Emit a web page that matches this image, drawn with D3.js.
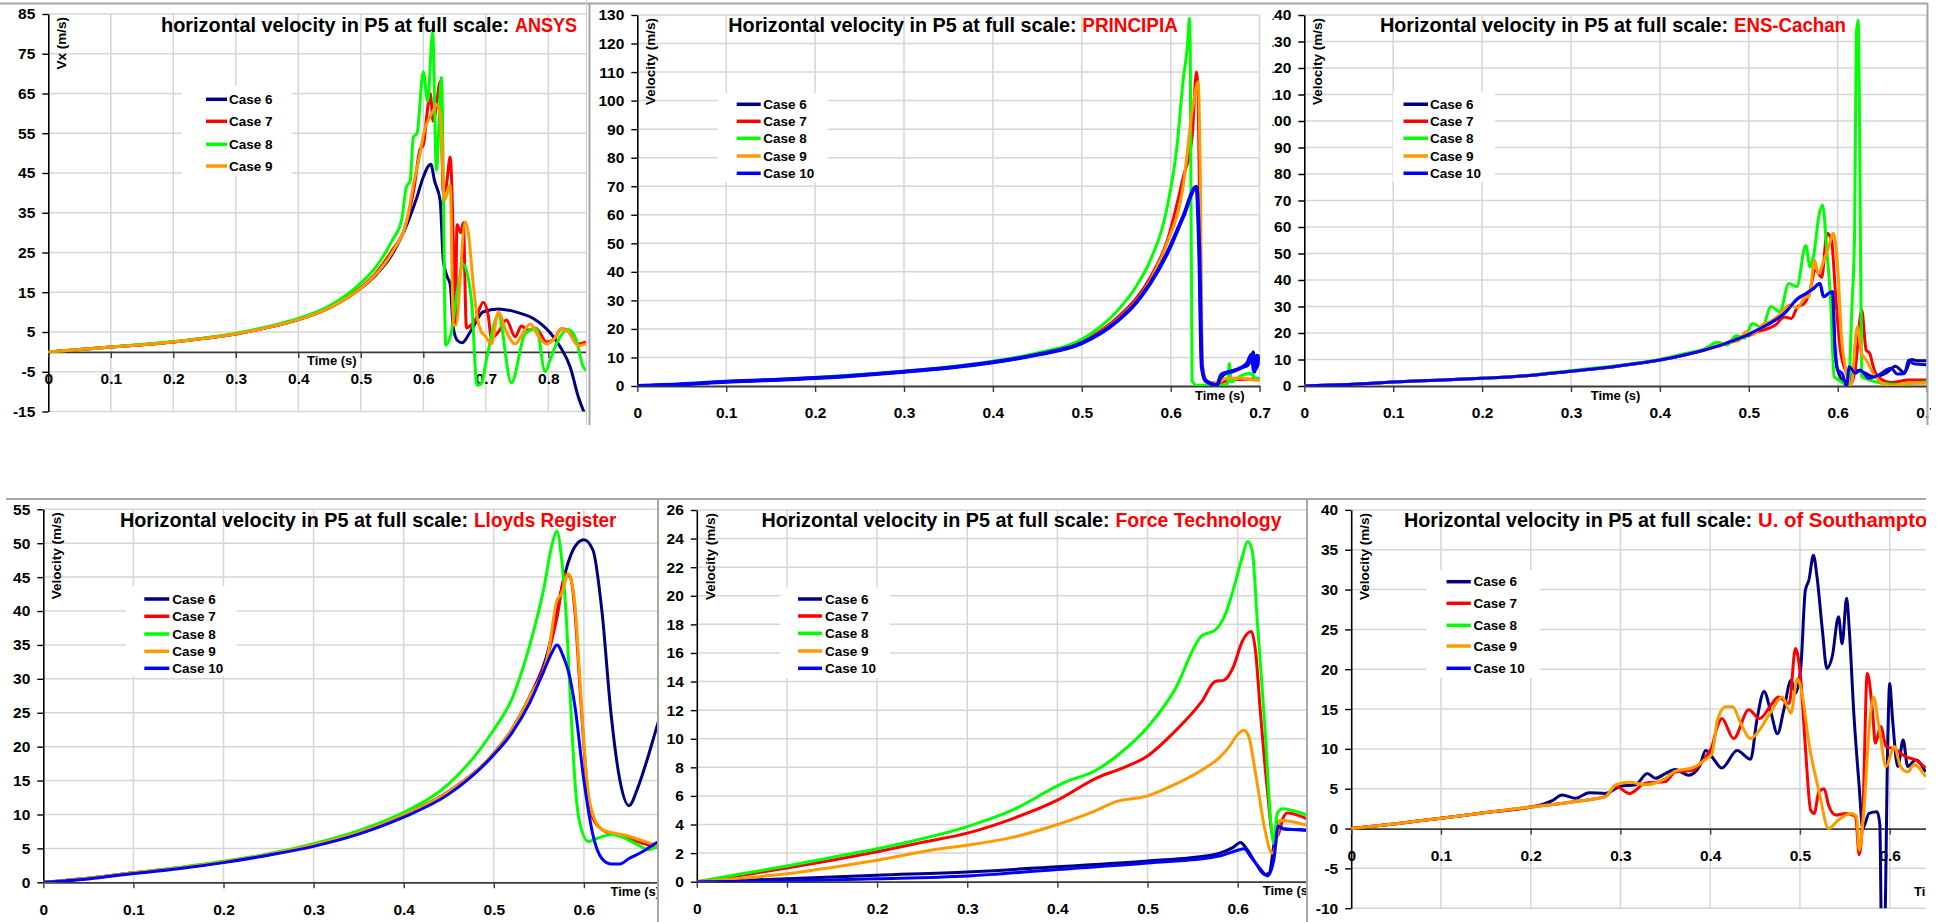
<!DOCTYPE html>
<html>
<head>
<meta charset="utf-8">
<script src="https://cdn.jsdelivr.net/npm/d3@7"></script>
<style>
  html, body { margin: 0; padding: 0; background: #fff; overflow: hidden; }
  svg { display: block; }
</style>
</head>
<body>
<script>
const W = 1939, H = 922
const FONT = '"Liberation Sans", Arial, sans-serif'

const cases = ['Case 6', 'Case 7', 'Case 8', 'Case 9', 'Case 10']
const caseColors = ['#000080', '#ff0000', '#00ff00', '#ff9900', '#0000ff']
const timeTicks = [0, 0.1, 0.2, 0.3, 0.4, 0.5, 0.6, 0.7, 0.8, 0.9]

// ---- ANSYS
const ansysTicks = [85, 75, 65, 55, 45, 35, 25, 15, 5, -5, -15]
const ansysRamp = [[0,0],[0.05,0.6],[0.1,1.2],[0.15,1.8],[0.2,2.5],[0.25,3.4],[0.3,4.5],[0.35,6.1],[0.4,8.1],[0.45,11.1]]
const ansys6 = ansysRamp.concat([[0.5,16],[0.525,19.5],[0.55,24.5],[0.575,32.5],[0.59,39],[0.6,44],[0.612,47.2],[0.618,43],[0.627,38],[0.632,23],[0.638,19],[0.643,17],[0.648,6],[0.655,2.8],[0.662,2.3],[0.675,5],[0.696,10.1],[0.72,10.8],[0.749,10],[0.776,8.4],[0.803,4.8],[0.819,1.3],[0.835,-3.8],[0.848,-11.3],[0.862,-17]])
const ansys7 = ansysRamp.concat([[0.5,16.2],[0.525,20],[0.55,25.5],[0.57,31],[0.585,41],[0.595,51],[0.6,52],[0.606,60],[0.611,65],[0.616,58],[0.621,62],[0.627,68],[0.632,40],[0.637,42],[0.643,49],[0.648,28],[0.651,7],[0.654,32],[0.66,30],[0.664,32.5],[0.669,6],[0.675,6.5],[0.683,8],[0.696,12.5],[0.704,9],[0.709,3.5],[0.72,5],[0.733,8],[0.747,3.8],[0.757,6.5],[0.768,5.5],[0.78,6],[0.797,2.5],[0.808,3],[0.821,5.8],[0.835,5],[0.848,2],[0.86,2.5]])
const ansys8 = [[0,0],[0.05,0.6],[0.1,1.2],[0.15,1.9],[0.2,2.6],[0.25,3.5],[0.3,4.7],[0.35,6.3],[0.4,8.4],[0.45,11.6],[0.5,17.3],[0.525,21.5],[0.55,28],[0.565,33],[0.573,41.5],[0.579,43],[0.584,54],[0.59,55],[0.6,70.5],[0.607,63],[0.615,80.5],[0.621,45.7],[0.629,69],[0.636,1.7],[0.645,5],[0.655,16],[0.664,22],[0.677,13],[0.686,-8.4],[0.693,-8],[0.701,-2],[0.72,9.2],[0.741,-7.8],[0.763,4.6],[0.781,5.9],[0.795,-5],[0.803,-2],[0.813,2],[0.832,5.6],[0.845,2.9],[0.856,-3.8],[0.865,-5]]
const ansys9 = ansysRamp.concat([[0.5,16],[0.525,19.7],[0.55,25],[0.575,34],[0.584,42],[0.595,50],[0.6,54.5],[0.61,59],[0.617,61],[0.621,62.3],[0.627,60],[0.634,38.2],[0.643,42],[0.648,7],[0.652,6.7],[0.667,32.7],[0.672,30],[0.68,17],[0.686,8.8],[0.693,5],[0.699,4],[0.709,2],[0.72,10],[0.733,5],[0.747,2],[0.757,4],[0.771,7],[0.784,4],[0.797,2],[0.808,3],[0.821,5.8],[0.832,5],[0.848,1.5],[0.86,2]])

// ---- PRINCIPIA
const principiaTicks = [0, 10, 20, 30, 40, 50, 60, 70, 80, 90, 100, 110, 120, 130]
const principiaRamp = [[0,0],[0.05,0.6],[0.1,1.5],[0.15,2.1],[0.2,2.8],[0.25,3.8],[0.3,5],[0.35,6.4],[0.4,8.3],[0.45,11]]
const principia6 = principiaRamp.concat([[0.5,15],[0.539,22.5],[0.562,29.5],[0.577,36],[0.596,46.5],[0.614,59.3],[0.629,69.8],[0.632,49],[0.635,6.8],[0.639,2],[0.652,0.3],[0.66,4],[0.67,5],[0.68,6.5],[0.686,7],[0.69,9],[0.693,12],[0.696,6],[0.7,11]])
const principia7 = principiaRamp.concat([[0.5,15.5],[0.539,23.7],[0.577,38],[0.596,50.8],[0.614,73],[0.624,87],[0.629,110],[0.631,100],[0.633,49],[0.635,6.8],[0.639,1.5],[0.652,1],[0.671,2.2],[0.689,2.4],[0.7,2.5]])
const principia8 = [[0,0],[0.05,0.6],[0.1,1.6],[0.15,2.2],[0.2,3],[0.25,4],[0.3,5.2],[0.35,6.7],[0.4,8.7],[0.45,11.6],[0.502,16.7],[0.539,26],[0.562,35.3],[0.577,44],[0.596,62.7],[0.607,83.8],[0.614,107],[0.619,120],[0.621,128.8],[0.622,117.7],[0.624,2],[0.629,0.3],[0.66,0.3],[0.664,1],[0.666,7.9],[0.668,1.5],[0.678,3.4],[0.689,4.5],[0.697,2.5],[0.7,3]]
const principia9 = principiaRamp.concat([[0.5,15.2],[0.539,23],[0.577,37],[0.596,50],[0.614,70],[0.625,98],[0.631,106.6],[0.633,80],[0.636,6.8],[0.641,1.5],[0.652,1],[0.662,2.7],[0.678,2.7],[0.697,2],[0.7,2]])
const principia10 = principiaRamp.concat([[0.5,15],[0.539,22.5],[0.562,29.5],[0.577,36],[0.596,46.5],[0.614,59.3],[0.629,69.8],[0.632,49],[0.635,6.8],[0.639,2],[0.652,0.3],[0.657,4],[0.667,5],[0.678,6.2],[0.686,7.9],[0.691,11],[0.694,5],[0.697,10.6],[0.7,7.5]])

// ---- ENS-Cachan
const ensTicks = [0, 10, 20, 30, 40, 50, 60, 70, 80, 90, 100, 110, 120, 130, 140]
const ensRamp = [[0,0],[0.05,0.6],[0.1,1.5],[0.15,2.2],[0.2,2.9],[0.25,3.9],[0.3,5.6],[0.35,7.4],[0.4,9.8],[0.425,11.5],[0.45,13.6],[0.475,16.2]]
const ens6 = ensRamp.concat([[0.5,19.5],[0.52,23],[0.54,27.4],[0.555,33],[0.565,35],[0.573,36.9],[0.58,38.7],[0.584,33.7],[0.59,35],[0.594,35.6],[0.597,13.6],[0.6,6],[0.61,0.5],[0.62,6],[0.63,5],[0.64,3.5],[0.655,5],[0.665,7.5],[0.675,5],[0.683,10],[0.69,9.5],[0.7,9.5]])
const ens7 = ensRamp.concat([[0.49,18.5],[0.5,19],[0.51,20.5],[0.52,21.5],[0.53,23],[0.54,26],[0.548,25.5],[0.555,30],[0.562,31],[0.568,35],[0.575,43.8],[0.582,41],[0.588,57.6],[0.593,55],[0.598,32.5],[0.603,13.6],[0.61,4.8],[0.615,1],[0.62,7.3],[0.627,28.7],[0.632,13.6],[0.636,12.3],[0.64,7.3],[0.645,3.5],[0.66,1.3],[0.68,2.3],[0.7,2.3]])
const ens8 = [[0,0],[0.05,0.6],[0.1,1.5],[0.15,2.2],[0.2,2.9],[0.25,4],[0.3,5.8],[0.35,7.6],[0.4,10],[0.425,12],[0.45,14],[0.465,16.5],[0.475,15.5],[0.486,19],[0.495,18],[0.504,23.6],[0.515,22],[0.525,30],[0.535,28],[0.545,38.7],[0.554,37.5],[0.564,53],[0.569,45],[0.573,49.4],[0.579,64.5],[0.583,68.3],[0.588,50],[0.592,32.5],[0.596,3.5],[0.601,2.3],[0.607,1],[0.612,0.5],[0.616,30],[0.619,57.6],[0.621,133],[0.623,138],[0.625,82.8],[0.627,3.5],[0.635,2.3],[0.65,1],[0.669,0.5],[0.684,1],[0.7,1.5]]
const ens9 = ensRamp.concat([[0.488,17],[0.497,20.5],[0.505,19.5],[0.515,23],[0.525,24.5],[0.535,27],[0.545,30.5],[0.555,29.5],[0.562,33],[0.568,34],[0.574,47.5],[0.578,42.5],[0.585,48],[0.59,52.6],[0.595,57.6],[0.6,45],[0.604,19.9],[0.61,4.8],[0.615,0],[0.622,22.4],[0.627,12.3],[0.632,9.8],[0.64,4.8],[0.65,1],[0.66,0],[0.68,1],[0.7,1]])
const ens10 = ensRamp.concat([[0.5,19.5],[0.52,23],[0.54,27.4],[0.555,33],[0.565,35],[0.573,36.9],[0.58,38.7],[0.584,33.7],[0.59,35],[0.594,35.6],[0.597,13.6],[0.6,6],[0.605,4.8],[0.61,0],[0.613,7.3],[0.62,4.8],[0.625,6],[0.635,2.9],[0.645,4],[0.66,6.7],[0.667,4.5],[0.675,4.7],[0.68,9.8],[0.685,8.5],[0.7,8]])

// ---- Lloyds Register
const lloydsTicks = [0, 5, 10, 15, 20, 25, 30, 35, 40, 45, 50, 55]
const lloydsRamp = [[0,0],[0.05,0.6],[0.1,1.4],[0.15,2.1],[0.2,3],[0.25,4.1],[0.3,5.5],[0.35,7.3],[0.4,9.9],[0.45,13.4],[0.5,19]]
const lloyds6 = lloydsRamp.concat([[0.52,22.5],[0.54,27.4],[0.56,34],[0.57,40],[0.58,46],[0.59,49.5],[0.6,50.5],[0.61,49],[0.62,40],[0.63,25],[0.64,15],[0.65,11.3],[0.66,14],[0.67,18],[0.68,22.5],[0.69,27]])
const lloyds7 = lloydsRamp.concat([[0.52,22.5],[0.54,27.4],[0.56,33.5],[0.57,39],[0.58,45.5],[0.585,45],[0.59,40],[0.595,30],[0.6,20],[0.605,12.5],[0.61,9.5],[0.62,7.8],[0.63,7.2],[0.64,6.9],[0.65,6.5],[0.66,6],[0.68,5.2],[0.69,5]])
const lloyds8 = [[0,0],[0.05,0.6],[0.1,1.4],[0.15,2.2],[0.2,3.1],[0.25,4.2],[0.3,5.7],[0.35,7.6],[0.4,10.3],[0.45,14.5],[0.5,22.5],[0.52,27],[0.54,35],[0.555,43],[0.565,50],[0.57,51.8],[0.575,48],[0.58,40],[0.585,27],[0.59,15],[0.595,9],[0.605,6],[0.615,6.5],[0.63,7],[0.64,6.8],[0.66,5.5],[0.672,4.8],[0.68,5.2],[0.69,5.5]]
const lloyds9 = lloydsRamp.concat([[0.52,22.5],[0.54,27.4],[0.56,33.5],[0.57,41.5],[0.575,42.5],[0.583,45.5],[0.59,41],[0.595,31],[0.6,20.5],[0.605,13],[0.61,10],[0.62,7.8],[0.65,6.8],[0.68,5.5],[0.69,5.2]])
const lloyds10 = [[0,0],[0.05,0.5],[0.1,1.3],[0.15,2],[0.2,2.9],[0.25,4],[0.3,5.3],[0.35,7.1],[0.4,9.6],[0.45,13],[0.5,18.8],[0.52,22],[0.54,26.5],[0.555,31],[0.565,34],[0.57,35],[0.578,33],[0.583,31],[0.59,26],[0.6,15],[0.61,7],[0.62,3.5],[0.63,2.7],[0.64,2.7],[0.65,3.5],[0.665,4.5],[0.68,5.8],[0.69,6.5]]

// ---- Force Technology
const forceTicks = [0, 2, 4, 6, 8, 10, 12, 14, 16, 18, 20, 22, 24, 26]
const force6 = [[0,0],[0.1,0.2],[0.2,0.45],[0.3,0.68],[0.4,1.05],[0.5,1.45],[0.55,1.7],[0.58,2],[0.595,2.4],[0.603,2.75],[0.61,2.3],[0.62,1.3],[0.63,0.5],[0.635,0.6],[0.64,2.5],[0.645,4.2],[0.65,3.7],[0.68,3.6]]
const force7 = [[0,0],[0.05,0.45],[0.1,0.95],[0.15,1.5],[0.2,2.1],[0.25,2.75],[0.3,3.4],[0.35,4.4],[0.4,5.7],[0.445,7.3],[0.47,7.9],[0.5,8.8],[0.53,10.5],[0.56,12.6],[0.575,14],[0.585,14.1],[0.595,15],[0.605,16.8],[0.615,17.5],[0.62,16],[0.625,12],[0.632,7],[0.64,3],[0.645,3.3],[0.65,4.4],[0.655,4.8],[0.68,4.3]]
const force8 = [[0,0],[0.05,0.55],[0.1,1.1],[0.15,1.7],[0.2,2.3],[0.25,3],[0.3,3.85],[0.35,5],[0.4,6.7],[0.41,7],[0.44,7.7],[0.47,9],[0.5,10.8],[0.53,13.4],[0.56,17.2],[0.575,17.6],[0.585,18.5],[0.595,20.4],[0.605,22.7],[0.611,23.8],[0.616,23.2],[0.622,18],[0.63,11],[0.637,4],[0.64,2.7],[0.644,4.8],[0.65,5.1],[0.66,5],[0.68,4.6]]
const force9 = [[0,0],[0.05,0.25],[0.1,0.55],[0.15,1],[0.2,1.5],[0.27,2.3],[0.3,2.55],[0.35,3.1],[0.4,4],[0.44,4.9],[0.465,5.6],[0.5,6],[0.53,6.8],[0.56,7.8],[0.58,8.7],[0.59,9.4],[0.6,10.3],[0.607,10.6],[0.612,10.2],[0.62,7.5],[0.63,3.7],[0.638,2],[0.642,2.5],[0.647,4.3],[0.66,4.2],[0.68,3.9]]
const force10 = [[0,0],[0.1,0.05],[0.2,0.2],[0.3,0.4],[0.4,0.85],[0.5,1.3],[0.58,1.8],[0.6,2.2],[0.607,2.3],[0.615,1.7],[0.625,0.9],[0.633,0.4],[0.64,1.5],[0.645,3.9],[0.65,3.7],[0.68,3.6]]

// ---- U. of Southampton (no Case 8 / Case 10 curves in the original)
const sotonTicks = [-10, -5, 0, 5, 10, 15, 20, 25, 30, 35, 40]
const sotonRamp = [[0,0],[0.05,0.6],[0.1,1.3],[0.15,2],[0.2,2.7]]
const soton6 = sotonRamp.concat([[0.215,3.1],[0.224,3.5],[0.235,4.2],[0.25,3.8],[0.265,4.5],[0.283,4.4],[0.3,5.3],[0.317,5.5],[0.33,6.9],[0.339,6.3],[0.35,6.9],[0.361,7.4],[0.376,6.7],[0.388,7.8],[0.395,9.8],[0.402,9],[0.413,7.6],[0.43,9.8],[0.445,8.7],[0.452,13.6],[0.46,17.2],[0.467,14.9],[0.475,11.9],[0.482,14.9],[0.49,18.6],[0.495,17],[0.501,20.3],[0.506,29.9],[0.51,31.2],[0.515,34.3],[0.519,31.6],[0.525,24.9],[0.53,20.1],[0.536,21.6],[0.543,26.6],[0.547,23.2],[0.552,28.9],[0.555,24.9],[0.56,14.5],[0.566,5.3],[0.57,0],[0.577,1.9],[0.586,2.1],[0.589,0.5],[0.591,-14],[0.594,-14],[0.598,12],[0.6,18.2],[0.603,14],[0.609,7.8],[0.615,11.1],[0.62,7.8],[0.629,8.6],[0.64,7.1]])
const soton7 = sotonRamp.concat([[0.25,3.4],[0.283,4],[0.295,5.3],[0.31,4.4],[0.328,5.7],[0.35,5.9],[0.361,7.1],[0.38,7.3],[0.395,9],[0.402,10.3],[0.408,12.8],[0.413,13.8],[0.426,11.3],[0.443,14.9],[0.455,13.8],[0.469,15.7],[0.476,16.5],[0.488,15.7],[0.495,22.6],[0.501,18.6],[0.506,10.3],[0.512,2.3],[0.516,1.9],[0.521,4.6],[0.527,5],[0.532,2.9],[0.54,1.7],[0.551,1.9],[0.562,1.5],[0.566,-3.3],[0.57,1.5],[0.575,19.5],[0.581,14.5],[0.584,10.7],[0.59,12.8],[0.596,10.3],[0.605,10],[0.618,9],[0.629,8.6],[0.64,7.6]])
const soton8 = []
const soton9 = sotonRamp.concat([[0.25,3.4],[0.283,4],[0.295,5.5],[0.31,5.8],[0.328,5.5],[0.35,6.3],[0.361,7.2],[0.38,7.6],[0.395,8.7],[0.402,9.4],[0.408,13.6],[0.417,15.3],[0.425,15.3],[0.434,13.2],[0.445,11.3],[0.455,12.4],[0.469,14.9],[0.48,16.5],[0.49,14.5],[0.497,18.8],[0.503,16.5],[0.51,10.7],[0.521,4.8],[0.532,0],[0.543,1.1],[0.557,1.9],[0.563,1.5],[0.566,-2.7],[0.571,1.9],[0.577,12.4],[0.582,16.5],[0.588,12.8],[0.596,7.8],[0.605,10.3],[0.612,7.8],[0.62,7.1],[0.627,8],[0.64,6.5]])
const soton10 = []

// where each screenshot sat on the collage
const panels = [
  { head: 'horizontal velocity in P5 at full scale:', org: 'ANSYS', orgWidth: 62, yLabel: 'Vx (m/s)', yTicks: ansysTicks,
    series: [ansys6, ansys7, ansys8, ansys9],
    clip: [0, 0, 587, 425], x0: 48.3, dx: 62.5, xMax: 0.9, yTop: 14, yBottom: 411.5, title: [161, 32],
    legend: { box: [182, 86, 110, 89], line: [206, 227], textX: 229, rows: [99.3, 121.3, 144.3, 166] }, time: [307, 360] },
  { head: 'Horizontal velocity in P5 at full scale:', org: 'PRINCIPIA', orgWidth: 95.6, yLabel: 'Velocity (m/s)', yTicks: principiaTicks,
    series: [principia6, principia7, principia8, principia9, principia10],
    clip: [588, 0, 683, 425], x0: 637.3, dx: 88.9, xMax: 0.7, yTop: 15, yBottom: 386, title: [728.3, 32],
    legend: { box: [718, 93, 110, 89], line: [736.7, 760.7], textX: 763.3, rows: [104.3, 121.3, 138.3, 156, 173.3] }, time: [1195, 395], lastWidth: 4 },
  { head: 'Horizontal velocity in P5 at full scale:', org: 'ENS-Cachan', orgWidth: 112, yLabel: 'Velocity (m/s)', yTicks: ensTicks,
    series: [ens6, ens7, ens8, ens9, ens10],
    clip: [1272.5, 0, 658.5, 425], x0: 1304.3, dx: 88.9, xMax: 0.7, yTop: 15, yBottom: 386, title: [1380, 32],
    legend: { box: [1393, 92, 102, 90], line: [1403.5, 1428], textX: 1430, rows: [104.3, 121.3, 138.3, 156, 173.3] }, time: [1590.7, 395] },
  { head: 'Horizontal velocity in P5 at full scale:', org: 'Lloyds Register', orgWidth: 142.5, yLabel: 'Velocity (m/s)', yTicks: lloydsTicks,
    series: [lloyds6, lloyds7, lloyds8, lloyds9, lloyds10],
    clip: [0, 495, 657, 427], x0: 43.3, dx: 90.1, xMax: 0.7, yTop: 509.3, yBottom: 882.3, title: [120, 526.7],
    legend: { box: [126, 586, 111, 90], line: [144.3, 169.3], textX: 172.3, rows: [599, 616.3, 634, 651.3, 668.3] }, time: [610.5, 891.7] },
  { head: 'Horizontal velocity in P5 at full scale:', org: 'Force Technology', orgWidth: 166, yLabel: 'Velocity (m/s)', yTicks: forceTicks,
    series: [force6, force7, force8, force9, force10],
    clip: [657, 495, 650, 427], x0: 696.8, dx: 90.15, xMax: 0.7, yTop: 510, yBottom: 881.7, title: [761.5, 526.7],
    legend: { box: [780, 588, 110, 90], line: [798, 822], textX: 825, rows: [599, 616, 633.3, 651, 668.3] }, time: [1262.8, 890] },
  { head: 'Horizontal velocity in P5 at full scale:', org: 'U. of Southampton', orgWidth: 182, yLabel: 'Velocity (m/s)', yTicks: sotonTicks,
    series: [soton6, soton7, soton8, soton9, soton10],
    clip: [1307, 495, 619, 427], x0: 1351.2, dx: 89.75, xMax: 0.7, yTop: 509.9, yBottom: 908.2, title: [1404, 526.7],
    legend: { box: [1426, 570, 114, 108], line: [1446.5, 1470.8], textX: 1473.6, rows: [581.7, 603.3, 625.3, 646, 668.3] }, time: [1914, 891.7] }
]

// lead-in "…full scale:" is ~348px, the red name starts ~354px after the title start
const HEAD_WIDTH = 348.5, ORG_OFFSET = 354

const svg = d3.select('body').append('svg')
  .attr('width', W).attr('height', H)
  .attr('font-family', FONT).attr('font-weight', 'bold')

const defs = svg.append('defs')

function textWidth(str, size) {
  let probe = svg.append('text').attr('font-size', size).text(str)
  let w = probe.node().getComputedTextLength()
  probe.remove()
  return w
}

let fmtTime = d => d === 0 ? '0' : d.toFixed(1)

function drawPanel(p, i) {
  let x = d3.scaleLinear().domain([0, p.xMax]).range([p.x0, p.x0 + p.xMax * p.dx * 10])
  let y = d3.scaleLinear().domain(d3.extent(p.yTicks)).range([p.yBottom, p.yTop])
  let xEnd = x(p.xMax)
  let clipRight = p.clip[0] + p.clip[2]
  // only ticks that can show inside the pasted crop
  let xTicks = timeTicks.filter(d => d <= p.xMax + 1e-9 && x(d) < clipRight + 4)

  defs.append('clipPath').attr('id', 'panel' + i).append('rect')
    .attr('x', p.clip[0]).attr('y', p.clip[1]).attr('width', p.clip[2]).attr('height', p.clip[3])
  defs.append('clipPath').attr('id', 'plot' + i).append('rect')
    .attr('x', p.x0).attr('y', p.yTop).attr('width', xEnd - p.x0).attr('height', p.yBottom - p.yTop)

  let g = svg.append('g').attr('clip-path', `url(#panel${i})`)

  // gridlines
  g.append('g').selectAll('line')
    .data(p.yTicks.filter(d => d !== 0))
    .join('line')
      .attr('x1', p.x0).attr('x2', Math.min(xEnd, clipRight))
      .attr('y1', d => y(d)).attr('y2', d => y(d))
      .attr('stroke', '#d6d6d6').attr('stroke-width', 1.5)

  g.append('g').selectAll('line')
    .data(xTicks.filter(d => d > 0))
    .join('line')
      .attr('x1', d => x(d)).attr('x2', d => x(d))
      .attr('y1', p.yTop).attr('y2', p.yBottom)
      .attr('stroke', '#d6d6d6').attr('stroke-width', 1.5)

  // axes
  let ya = g.append('g')
    .attr('transform', `translate(${p.x0},0)`)
    .call(d3.axisLeft(y).tickValues(p.yTicks).tickSize(6).tickSizeOuter(0).tickPadding(7).tickFormat(d => String(d)))
  ya.attr('font-family', FONT).attr('font-size', 15.5).attr('font-weight', 'bold')
  ya.select('.domain').attr('stroke', '#000').attr('stroke-width', 1.6)
  ya.selectAll('.tick line').attr('stroke', '#000').attr('stroke-width', 1.4)
  ya.selectAll('text').attr('fill', '#000')

  let xa = g.append('g')
    .attr('transform', `translate(0,${y(0)})`)
    .call(d3.axisBottom(x).tickValues(xTicks).tickSize(6).tickSizeOuter(0).tickFormat(fmtTime))
  xa.attr('font-family', FONT).attr('font-size', 15.5).attr('font-weight', 'bold')
  xa.select('.domain').attr('stroke', '#3a3a3a').attr('stroke-width', 1.8)
  xa.selectAll('.tick line').attr('stroke', '#3a3a3a').attr('stroke-width', 1.4)
  xa.selectAll('text').attr('fill', '#000').attr('y', 27).attr('dy', '0.35em')

  // series
  let line = d3.line()
    .x(d => x(d[0]))
    .y(d => y(d[1]))
    .curve(d3.curveMonotoneX)

  g.append('g')
    .attr('clip-path', `url(#plot${i})`)
    .selectAll('path')
    .data(p.series)
    .join('path')
      .attr('d', d => d.length ? line(d) : null)
      .attr('fill', 'none')
      .attr('stroke', (d, k) => caseColors[k])
      .attr('stroke-width', (d, k) => k === 4 && p.lastWidth ? p.lastWidth : 3)
      .attr('stroke-linejoin', 'round')

  // axis titles
  g.append('text')
    .attr('transform', `translate(${p.x0 + 13},${p.yTop + 3}) rotate(-90)`)
    .attr('text-anchor', 'end').attr('dy', '0.35em')
    .attr('font-size', 13.5)
    .text(p.yLabel)

  g.append('text')
    .attr('x', p.time[0]).attr('y', p.time[1]).attr('dy', '0.35em')
    .attr('font-size', 13)
    .text('Time (s)')

  // title: black lead-in, then the organisation in red
  let kHead = HEAD_WIDTH / textWidth(p.head, 20)
  let kOrg = p.orgWidth ? p.orgWidth / textWidth(p.org, 20) : kHead
  g.append('text')
    .attr('transform', `translate(${p.title[0]},${p.title[1]}) scale(${kHead},1)`)
    .attr('font-size', 20).attr('fill', '#000')
    .text(p.head)
  g.append('text')
    .attr('transform', `translate(${p.title[0] + ORG_OFFSET},${p.title[1]}) scale(${kOrg},1)`)
    .attr('font-size', 20).attr('fill', '#ff0000')
    .text(p.org)

  // legend
  let lg = p.legend
  let leg = g.append('g')
  leg.append('rect')
    .attr('x', lg.box[0]).attr('y', lg.box[1]).attr('width', lg.box[2]).attr('height', lg.box[3])
    .attr('fill', '#fff')
  let items = leg.selectAll('g.item')
    .data(lg.rows)
    .join('g')
      .attr('class', 'item')
      .attr('transform', d => `translate(0,${d})`)
  items.append('line')
    .attr('x1', lg.line[0]).attr('x2', lg.line[1])
    .attr('stroke', (d, k) => caseColors[k]).attr('stroke-width', 3.5)
  items.append('text')
    .attr('x', lg.textX).attr('dy', '0.35em')
    .attr('font-size', 13.5)
    .text((d, k) => cases[k])
}

panels.forEach(drawPanel)

// grey borders of the pasted screenshots
const frames = [
  [0, 3.5, 1928, 3.5, '#a6a6a6', 2],
  [586.5, 0, 586.5, 425, '#cfcfcf', 1],
  [589.5, 3, 589.5, 425, '#a6a6a6', 2],
  [1927.5, 3, 1927.5, 425, '#a6a6a6', 2],
  [6, 499, 1926, 499, '#a6a6a6', 2],
  [658, 499, 658, 922, '#a6a6a6', 2],
  [1307, 499, 1307, 922, '#a6a6a6', 2]
]
svg.append('g').selectAll('line')
  .data(frames)
  .join('line')
    .attr('x1', d => d[0]).attr('y1', d => d[1])
    .attr('x2', d => d[2]).attr('y2', d => d[3])
    .attr('stroke', d => d[4]).attr('stroke-width', d => d[5])
</script>
</body>
</html>
